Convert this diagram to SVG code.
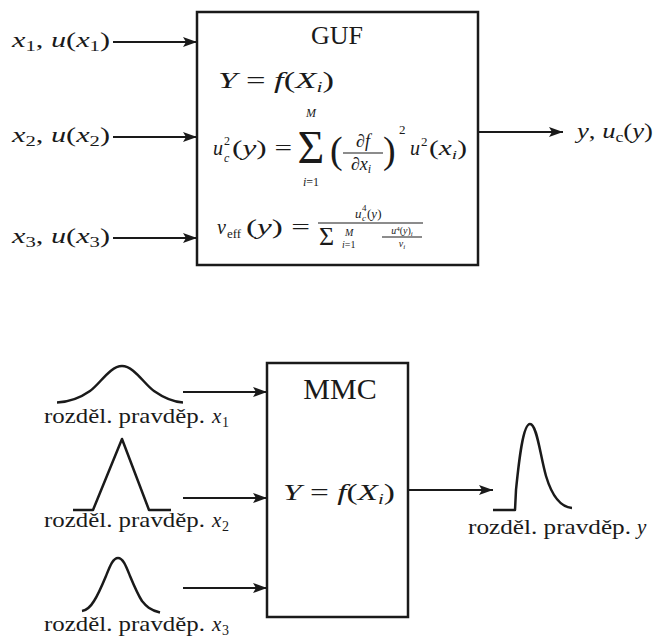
<svg xmlns="http://www.w3.org/2000/svg" width="656" height="639" viewBox="0 0 656 639">
<defs>
<marker id="ah" viewBox="0 0 14 10" refX="14" refY="5" markerWidth="14" markerHeight="10" markerUnits="userSpaceOnUse" orient="auto">
<path d="M0,0 L14,5 L0,10 L3,5 Z" fill="#1a1a1a"/>
</marker>
<style>
text{font-family:"Liberation Serif","Times New Roman",serif;fill:#1a1a1a}
.i{font-style:italic}
.box{fill:#fff;stroke:#1a1a1a;stroke-width:2.5}
.arr{fill:none;stroke:#1a1a1a;stroke-width:2;marker-end:url(#ah)}
.crv{fill:none;stroke:#1a1a1a;stroke-width:2.5;stroke-linejoin:round}
.fl{stroke:#1a1a1a;stroke-width:1.2}
</style>
</defs>
<rect width="656" height="639" fill="#fff"/>

<g id="connectors">
<line class="arr" x1="113" y1="42" x2="197" y2="42"/>
<line class="arr" x1="113" y1="137" x2="197" y2="137"/>
<line class="arr" x1="113" y1="238" x2="197" y2="238"/>
<line class="arr" x1="478" y1="132" x2="563" y2="132"/>
<line class="arr" x1="183" y1="392" x2="267" y2="392"/>
<line class="arr" x1="183" y1="498" x2="267" y2="498"/>
<line class="arr" x1="183" y1="588" x2="267" y2="588"/>
<line class="arr" x1="408" y1="490" x2="493" y2="490"/>
</g>

<g id="in1">
<text x="12" y="47" font-size="22" textLength="98" lengthAdjust="spacingAndGlyphs"><tspan class="i">x</tspan><tspan font-size="15" dy="4">1</tspan><tspan dy="-4">, </tspan><tspan class="i">u</tspan>(<tspan class="i">x</tspan><tspan font-size="15" dy="4">1</tspan><tspan dy="-4">)</tspan></text>
</g>
<g id="in2">
<text x="12" y="142" font-size="22" textLength="98" lengthAdjust="spacingAndGlyphs"><tspan class="i">x</tspan><tspan font-size="15" dy="4">2</tspan><tspan dy="-4">, </tspan><tspan class="i">u</tspan>(<tspan class="i">x</tspan><tspan font-size="15" dy="4">2</tspan><tspan dy="-4">)</tspan></text>
</g>
<g id="in3">
<text x="12" y="243" font-size="22" textLength="98" lengthAdjust="spacingAndGlyphs"><tspan class="i">x</tspan><tspan font-size="15" dy="4">3</tspan><tspan dy="-4">, </tspan><tspan class="i">u</tspan>(<tspan class="i">x</tspan><tspan font-size="15" dy="4">3</tspan><tspan dy="-4">)</tspan></text>
</g>

<g id="guf">
<rect class="box" x="197" y="12" width="281" height="253"/>
<text x="337" y="44" font-size="26" text-anchor="middle">GUF</text>
<text x="218" y="88" font-size="24" textLength="116" lengthAdjust="spacingAndGlyphs"><tspan class="i">Y</tspan> = <tspan class="i">f</tspan>(<tspan class="i">X</tspan><tspan class="i" font-size="15" dy="4">i</tspan><tspan dy="-4">)</tspan></text>
<!-- u_c^2 formula -->
<text x="213" y="155" font-size="20" class="i">u</text>
<text x="224" y="145" font-size="12">2</text>
<text x="224" y="162" font-size="12" class="i">c</text>
<text x="232" y="155" font-size="20" textLength="60" lengthAdjust="spacingAndGlyphs">(<tspan class="i">y</tspan>) =</text>
<text x="311" y="163" font-size="46" text-anchor="middle">Σ</text>
<text x="311" y="117" font-size="12" class="i" text-anchor="middle">M</text>
<text x="311" y="186" font-size="12" text-anchor="middle"><tspan class="i">i</tspan>=1</text>
<text x="330" y="163" font-size="38">(</text>
<text x="363" y="147" font-size="18" text-anchor="middle" class="i">∂f</text>
<line class="fl" x1="343" y1="153" x2="383" y2="153"/>
<text x="361" y="170" font-size="18" text-anchor="middle"><tspan class="i">∂x</tspan><tspan class="i" font-size="12" dy="3">i</tspan></text>
<text x="383" y="163" font-size="38">)</text>
<text x="399" y="134" font-size="13">2</text>
<text x="410" y="155" font-size="20" class="i">u</text>
<text x="421" y="146" font-size="13">2</text>
<text x="429" y="155" font-size="20" textLength="38" lengthAdjust="spacingAndGlyphs">(<tspan class="i">x</tspan><tspan class="i" font-size="13" dy="4">i</tspan><tspan dy="-4">)</tspan></text>
<!-- nu_eff formula -->
<text x="217" y="234" font-size="20" class="i">ν</text>
<text x="227" y="238" font-size="13">eff</text>
<text x="246" y="234" font-size="20" textLength="64" lengthAdjust="spacingAndGlyphs">(<tspan class="i">y</tspan>) =</text>
<line class="fl" x1="318" y1="223" x2="423" y2="223"/>
<text x="355" y="218" font-size="13" class="i">u</text>
<text x="362" y="211" font-size="9">4</text>
<text x="362" y="221" font-size="9" class="i">c</text>
<text x="367" y="218" font-size="13">(<tspan class="i">y</tspan>)</text>
<text x="319" y="245" font-size="26">Σ</text>
<text x="345" y="236" font-size="10" class="i">M</text>
<text x="342" y="248" font-size="10"><tspan class="i">i</tspan>=1</text>
<text x="402" y="234" font-size="10" text-anchor="middle"><tspan class="i">u</tspan><tspan font-size="7" dy="-3">4</tspan><tspan dy="3">(</tspan><tspan class="i">y</tspan>)<tspan class="i" font-size="7" dy="2">i</tspan></text>
<line class="fl" x1="382" y1="237" x2="422" y2="237" stroke-width="0.9"/>
<text x="402" y="247" font-size="10" text-anchor="middle"><tspan class="i">ν</tspan><tspan class="i" font-size="7" dy="2">i</tspan></text>
</g>

<g id="out1">
<text x="577" y="138" font-size="21" textLength="76" lengthAdjust="spacingAndGlyphs"><tspan class="i">y</tspan>, <tspan class="i">u</tspan><tspan font-size="14" dy="4">c</tspan><tspan dy="-4">(</tspan><tspan class="i">y</tspan>)</text>
</g>

<g id="dist1">
<path class="crv" d="M57,402.5 C70,402 80,398 90,391 C100,384 110,366 122,366 C134,366 144,384 154,391 C164,398 174,402 183,402.5"/>
<text x="44" y="423" font-size="21" textLength="161" lengthAdjust="spacingAndGlyphs">rozděl. pravděp.</text>
<text x="212" y="423" font-size="21" class="i">x</text>
<text x="222" y="427" font-size="14">1</text>
</g>
<g id="dist2">
<path class="crv" d="M73,510 L93,510 L122,439 L149,510 L171,510"/>
<text x="44" y="527" font-size="21" textLength="161" lengthAdjust="spacingAndGlyphs">rozděl. pravděp.</text>
<text x="212" y="527" font-size="21" class="i">x</text>
<text x="222" y="531" font-size="14">2</text>
</g>
<g id="dist3">
<path class="crv" d="M82,611 C88,610 91,606 94,601 C98,595 101,588 106,576 C110,566 113,558 118,558 C123,558 126,566 130,576 C135,588 138,595 142,601 C146,606 150,610 160,612.5"/>
<text x="44" y="631" font-size="21" textLength="161" lengthAdjust="spacingAndGlyphs">rozděl. pravděp.</text>
<text x="212" y="631" font-size="21" class="i">x</text>
<text x="222" y="635" font-size="14">3</text>
</g>

<g id="mmc">
<rect class="box" x="267" y="363" width="141" height="254"/>
<text x="340" y="399" font-size="30" text-anchor="middle">MMC</text>
<text x="283" y="500" font-size="24" textLength="112" lengthAdjust="spacingAndGlyphs"><tspan class="i">Y</tspan> = <tspan class="i">f</tspan>(<tspan class="i">X</tspan><tspan class="i" font-size="15" dy="4">i</tspan><tspan dy="-4">)</tspan></text>
</g>

<g id="out2">
<path class="crv" d="M493,510 L515,510 L516,490 C519,460 523,424 530,424 C537,424 540,455 546,476 C552,496 560,507 572,508"/>
<text x="468" y="534" font-size="21" textLength="163" lengthAdjust="spacingAndGlyphs">rozděl. pravděp.</text>
<text x="637" y="534" font-size="21" class="i">y</text>
</g>
</svg>
